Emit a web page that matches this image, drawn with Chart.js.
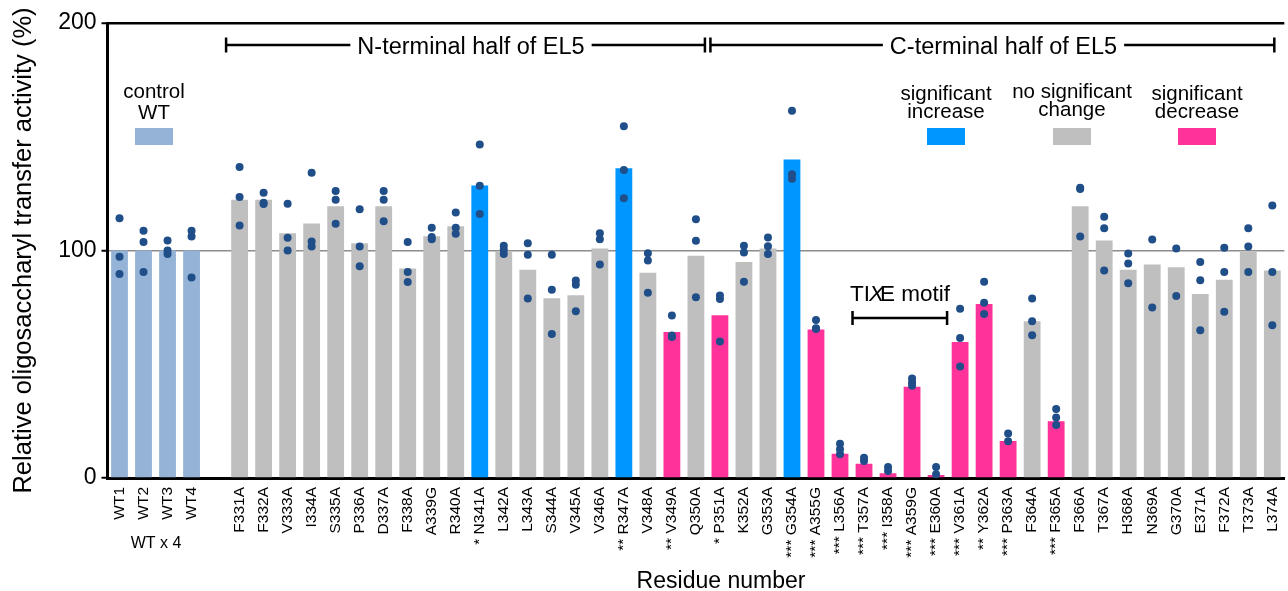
<!DOCTYPE html>
<html><head><meta charset="utf-8">
<script src="https://cdn.jsdelivr.net/npm/chart.js@4.4.0/dist/chart.umd.min.js"></script>
<style>
html,body{margin:0;padding:0;background:#fff;overflow:hidden;width:1288px;height:591px}
#wrap{position:absolute;left:0;top:0;width:1300px;height:591px}
</style></head><body><div id="wrap"><canvas id="c" width="1300" height="591"></canvas></div>
<script>
const categories = ['WT1','WT2','WT3','WT4',' ',
 'F331A','F332A','V333A','I334A','S335A','P336A','D337A','F338A','A339G','R340A',
 'N341A','L342A','L343A','S344A','V345A','V346A','R347A','V348A','V349A','Q350A',
 'P351A','K352A','G353A','G354A','A355G','L356A','T357A','I358A','A359G','E360A',
 'V361A','Y362A','P363A','F364A','F365A','F366A','T367A','H368A','N369A','G370A',
 'E371A','F372A','T373A','L374A'];
const stars = ['','','','','',
 '','','','','','','','','','',
 '*','','','','','','**','','**','',
 '*','','','***','***','***','***','***','***','***',
 '***','**','***','','***','','','','','',
 '','','',''];
const groups = ['wt','wt','wt','wt','',
 'ns','ns','ns','ns','ns','ns','ns','ns','ns','ns',
 'inc','ns','ns','ns','ns','ns','inc','ns','dec','ns',
 'dec','ns','ns','inc','dec','dec','dec','dec','dec','dec',
 'dec','dec','dec','ns','dec','ns','ns','ns','ns','ns',
 'ns','ns','ns','ns'];
const means = [100,100,100,100,null,
 122.3,122.3,107.6,111.9,119.4,103.2,119.4,92.1,106.3,110.7,
 128.6,99.6,91.5,79.0,80.3,100.9,136.1,90.2,64.2,97.7,
 71.5,95.0,100.9,140.0,65.3,10.7,6.3,2.1,40.1,1.3,
 59.8,76.5,16.3,68.9,25.0,119.4,104.4,91.5,93.8,92.6,
 80.9,87.1,99.3,91.2];
const rep1 = [114.2,108.7,104.4,108.7,null,
 136.7,125.4,120.6,134.2,126.1,118.1,126.1,103.7,110.0,116.7,
 146.6,102.1,103.2,98.1,86.8,107.6,154.6,98.8,71.4,113.7,
 80.2,102.1,105.7,161.4,69.5,15.1,8.9,4.8,43.7,4.8,
 74.4,86.3,19.6,78.9,30.3,127.6,114.8,98.7,104.8,100.9,
 95.0,101.2,109.8,119.8];
const rep2 = [97.2,103.7,100.0,106.2,null,
 123.5,121.0,105.6,104.0,122.3,101.8,122.3,90.6,105.9,110.0,
 128.5,100.3,98.1,82.7,85.0,105.0,135.4,95.6,62.6,104.3,
 78.7,99.1,101.9,133.5,65.8,12.6,7.5,3.1,42.0,1.6,
 61.5,77.0,16.1,68.9,26.6,127.0,109.8,94.3,75.0,80.0,
 86.9,90.6,101.8,90.6];
const rep3 = [89.7,90.6,98.5,88.1,null,
 111.0,120.4,100.0,101.8,111.8,93.1,112.9,86.2,105.0,107.4,
 116.0,98.5,78.9,63.3,73.3,93.8,123.0,81.4,62.0,79.4,
 60.0,86.3,98.5,131.5,65.5,10.4,null,null,40.5,null,
 49.0,72.1,null,62.7,23.3,106.2,91.2,85.6,null,null,
 65.0,73.1,90.6,67.1];
const yTicks = [0,100,200];

const colors = {wt:'#95B3D7', ns:'#BFBFBF', inc:'#0096FF', dec:'#FF3399', '':'rgba(0,0,0,0)'};
const DOT = '#1F4E89';
const FF = "'Liberation Sans', Arial, Helvetica, sans-serif";
const labels = categories.map((c,i)=> stars[i] ? stars[i]+' '+c : c);

function dotSet(d){ return {type:'line', data:d, showLine:false, pointRadius:4, pointHoverRadius:4,
  pointBackgroundColor:DOT, pointBorderWidth:0, order:0}; }

const annot = {
  id:'annot',
  afterDraw(chart){
    const ctx = chart.ctx, xs = chart.scales.x;
    const px = i => xs.getPixelForValue(i);
    ctx.save();
    ctx.fillStyle = '#000'; ctx.strokeStyle = '#000';
    function bracket(x1,x2,y,text,tc,lw){
      ctx.lineWidth = lw;
      ctx.font = '23.5px '+FF; ctx.textAlign='center'; ctx.textBaseline='alphabetic';
      const w = ctx.measureText(text).width;
      ctx.fillText(text, tc, y+8.5);
      ctx.beginPath();
      ctx.moveTo(x1,y); ctx.lineTo(tc-w/2-7,y);
      ctx.moveTo(tc+w/2+7,y); ctx.lineTo(x2,y);
      ctx.moveTo(x1,y-7.5); ctx.lineTo(x1,y+7.5);
      ctx.moveTo(x2,y-7.5); ctx.lineTo(x2,y+7.5);
      ctx.stroke();
    }
    const mid = (px(24)+px(25))/2;
    bracket(px(5)-13.5, mid-3, 45, 'N-terminal half of EL5', 471, 2.5);
    bracket(mid+2.5, px(48)+2, 45, 'C-terminal half of EL5', 1003.5, 2.5);
    ctx.font = '20.5px '+FF; ctx.textAlign='center';
    const leg = [
      {x:154, l:['control','WT'], b:[98,119], c:colors.wt},
      {x:946, l:['significant','increase'], b:[100,118], c:colors.inc},
      {x:1072, l:['no significant','change'], b:[98,116], c:colors.ns},
      {x:1197, l:['significant','decrease'], b:[100,118], c:colors.dec}
    ];
    leg.forEach(g=>{
      ctx.fillStyle='#000';
      ctx.fillText(g.l[0], g.x, g.b[0]);
      ctx.fillText(g.l[1], g.x, g.b[1]);
      ctx.fillStyle=g.c;
      ctx.fillRect(g.x-19, 128, 38, 17);
    });
    ctx.fillStyle='#000';
    ctx.textAlign='left';
    const parts = [['TI','22.5px '+FF,0],['X','italic 22.5px '+FF,-1],['E motif','22.5px '+FF,-4]];
    let tw = 0;
    parts.forEach(p=>{ctx.font=p[1]; tw += ctx.measureText(p[0]).width + p[2];});
    let tx = 900 - tw/2;
    parts.forEach(p=>{ctx.font=p[1]; tx += p[2]; ctx.fillText(p[0], tx, 301); tx += ctx.measureText(p[0]).width;});
    const b1 = px(31)-11.5, b2 = px(34)+11;
    ctx.lineWidth = 2.5;
    ctx.beginPath();
    ctx.moveTo(b1,318); ctx.lineTo(b2,318);
    ctx.moveTo(b1,311); ctx.lineTo(b1,325);
    ctx.moveTo(b2,311); ctx.lineTo(b2,325);
    ctx.stroke();
    ctx.textAlign='center';
    ctx.font = '16px '+FF;
    ctx.fillText('WT x 4', (px(1)+px(2))/2+0.5, 548);
    ctx.font = '23px '+FF;
    ctx.fillText('Residue number', 721, 588);
    ctx.restore();
  }
};

new Chart(document.getElementById('c'), {
  type:'bar',
  data:{
    labels: labels,
    datasets:[
      {label:'mean', data:means, backgroundColor:groups.map(g=>colors[g]), barPercentage:0.7, categoryPercentage:1.0, order:1},
      dotSet(rep1), dotSet(rep2), dotSet(rep3)
    ]
  },
  options:{
    responsive:false, animation:false, devicePixelRatio:1,
    layout:{padding:{left:0,right:8.5,top:23,bottom:0}},
    plugins:{legend:{display:false}, tooltip:{enabled:false}},
    scales:{
      x:{
        grid:{drawOnChartArea:false, drawTicks:false},
        border:{display:true, color:'#000', width:3},
        ticks:{autoSkip:false, minRotation:90, maxRotation:90, padding:9, color:'#000',
          font:{family:FF, size:15.5}},
        afterFit(s){ s.height = 113; }
      },
      y:{
        min:0, max:200,
        afterBuildTicks(s){ s.ticks = yTicks.map(v=>({value:v})); },
        ticks:{padding:5, color:'#000', font:{family:FF, size:23}},
        grid:{
          color: c => c.tick && c.tick.value===200 ? '#000' : (c.tick && c.tick.value===100 ? '#8c8c8c' : 'rgba(0,0,0,0)'),
          lineWidth: c => c.tick && c.tick.value===200 ? 2.5 : 1.5,
          tickColor:'#000', tickLength:6, tickWidth:2
        },
        border:{display:true, color:'#000', width:3},
        title:{display:true, text:'Relative oligosaccharyl transfer activity (%)', color:'#000',
          font:{family:FF, size:25.5}, padding:{top:9,bottom:0}},
        afterFit(s){ s.width = 107.5; }
      }
    }
  },
  plugins:[annot]
});
</script></body></html>
